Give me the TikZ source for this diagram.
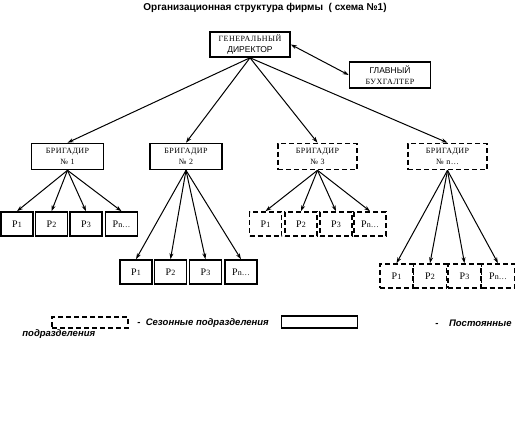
\documentclass[tikz,border=0pt]{standalone}
\usepackage{fontspec}
\setmainfont{Liberation Serif}
\setsansfont{Liberation Sans}
\newfontfamily\boxrm[LetterSpace=6]{Liberation Serif}
\usetikzlibrary{arrows.meta}
\newcommand{\rab}[1]{Р{\footnotesize #1}}
\newcommand{\serifsm}{\fontsize{8}{11.5}\selectfont\boxrm}
\newcommand{\sanssm}{\fontsize{8.5}{11.5}\selectfont\sffamily}

\begin{document}
\begin{tikzpicture}[x=1pt,y=-1pt,thick,every node/.style={inner sep=1pt},
      >={Stealth[length=6pt,width=4pt]},
      unit/.style={draw,line width=1.6pt,minimum width=#1,minimum height=26pt,align=center,font=\serifsm},
      unit/.default=70,
      sunit/.style={unit=#1,dash pattern=on 5pt off 3pt},
      sunit/.default=70,
      rabbox/.style={unit=#1,minimum height=24pt,font=\fontsize{10}{11}\selectfont\rmfamily},
      srabbox/.style={rabbox=#1,dash pattern=on 5pt off 3pt},
      legtext/.style={font=\fontsize{9.5}{11}\selectfont\sffamily\bfseries\itshape,inner sep=0pt}]
      \useasboundingbox (0,0) rectangle (515,445);
      \node[font=\fontsize{10}{12}\selectfont\sffamily\bfseries] (title) at (265,8)
        {Организационная структура фирмы\ \ ( схема №1)};
      % dirs
      \node[unit=80,minimum height=25pt] (dir) at (250,44.5) {ГЕНЕРАЛЬНЫЙ\\{\sanssm ДИРЕКТОР}};
      \node[unit=81] (buh) at (390,75) {{\sanssm ГЛАВНЫЙ}\\БУХГАЛТЕР};
      \draw[<->,line width=1pt] (dir.east) -- (buh.west);
      % brigadiry
      \node[unit=72] (b1) at (67.5,156.5) {БРИГАДИР\\№ 1};
      \node[unit=72] (b2) at (186,156.5) {БРИГАДИР\\№ 2};
      \node[sunit=79] (b3) at (317.5,156.5) {БРИГАДИР\\№ 3};
      \node[sunit=79] (b4) at (447.5,156.5) {БРИГАДИР\\№ n\dots};
      \foreach \b in {b1,b2,b3,b4}
        \draw[->,line width=1pt] (dir.south) -- (\b.north);
      % rabochie
      \foreach \n/\x/\t in {1/17/1,2/51.5/2,3/86/3,4/121.5/{n\dots}}{
        \node[rabbox=32] (p1\n) at (\x,224) {\rab{\t}};
        \draw[->,line width=1pt] (b1.south) -- (p1\n.north);}
      \foreach \n/\x/\t in {1/136/1,2/170.5/2,3/205.5/3,4/241/{n\dots}}{
        \node[rabbox=32] (p2\n) at (\x,272) {\rab{\t}};
        \draw[->,line width=1pt] (b2.south) -- (p2\n.north);}
      \foreach \n/\x/\t in {1/265.5/1,2/301/2,3/336/3,4/370/{n\dots}}{
        \node[srabbox=32] (p3\n) at (\x,224) {\rab{\t}};
        \draw[->,line width=1pt] (b3.south) -- (p3\n.north);}
      \foreach \n/\x/\t in {1/396.5/1,2/430/2,3/464.5/3,4/498/{n\dots}}{
        \node[srabbox=33] (p4\n) at (\x,276) {\rab{\t}};
        \draw[->,line width=1pt] (b4.south) -- (p4\n.north);}
      % legenda
      \node[sunit=76,minimum height=11pt] (lgs) at (90,322.5) {};
      \node[legtext,anchor=west] (lgst) at (137,323) {-\ \ Сезонные подразделения};
      \node[unit=76,minimum height=12pt,line width=1.2pt] (lgp) at (319.5,322) {};
      \node[legtext,anchor=east] (lgpt) at (512,323) {-\ \ \ \ Постоянные};
      \node[legtext,anchor=west] (lgpt2) at (22,334) {подразделения};
    \end{tikzpicture}
\end{document}
